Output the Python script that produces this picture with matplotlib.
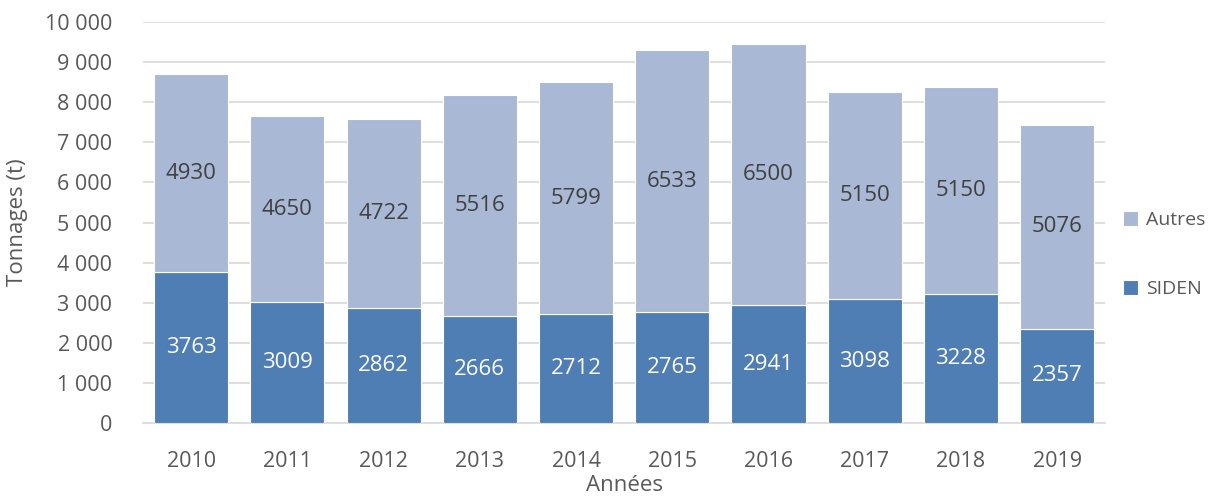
import matplotlib.pyplot as plt
from matplotlib.ticker import FuncFormatter

plt.rcParams['font.family'] = ['Open Sans', 'DejaVu Sans']

years = ['2010', '2011', '2012', '2013', '2014', '2015', '2016', '2017', '2018', '2019']
siden = [3763, 3009, 2862, 2666, 2712, 2765, 2941, 3098, 3228, 2357]
autres = [4930, 4650, 4722, 5516, 5799, 6533, 6500, 5150, 5150, 5076]

C_SIDEN = '#4f7eb5'
C_AUTRES = '#a9b8d4'
TXT = '#595959'

fig = plt.figure(figsize=(12.12, 4.99), dpi=100)
ax = fig.add_axes([0.118, 0.152, 0.794, 0.804])

x = range(len(years))
b1 = ax.bar(x, siden, width=0.77, color=C_SIDEN, edgecolor='white', linewidth=0.8, label='SIDEN', zorder=3)
b2 = ax.bar(x, autres, width=0.77, bottom=siden, color=C_AUTRES, edgecolor='white', linewidth=0.8, label='Autres', zorder=3)

for i in x:
    ax.text(i, siden[i] / 2, str(siden[i]), ha='center', va='center', color='white', fontsize=16, zorder=4)
    ax.text(i, siden[i] + autres[i] / 2, str(autres[i]), ha='center', va='center', color='#404040', fontsize=16, zorder=4)

ax.set_xlim(-0.5, len(years) - 0.5)
ax.set_ylim(0, 10000)
ax.set_yticks(range(0, 10001, 1000))
ax.yaxis.set_major_formatter(FuncFormatter(lambda v, p: f'{int(v):,}'.replace(',', ' ')))
ax.set_xticks(list(x))
ax.set_xticklabels(years)
ax.grid(axis='y', color='#d9d9d9', linewidth=1.2, zorder=0)
for s in ['top', 'right', 'left']:
    ax.spines[s].set_visible(False)
ax.spines['bottom'].set_color('#d9d9d9')
ax.spines['bottom'].set_linewidth(1.2)
ax.tick_params(axis='both', length=0, labelsize=15.5, colors=TXT)
ax.tick_params(axis='x', pad=20)
ax.tick_params(axis='y', pad=22)

ax.set_ylabel('Tonnages (t)', fontsize=16, color=TXT, labelpad=12)
ax.set_xlabel('Années', fontsize=16, color=TXT, labelpad=2)

ax.legend([b2, b1], ['Autres', 'SIDEN'], loc='center left', bbox_to_anchor=(1.018, 0.42),
          frameon=False, fontsize=14, labelcolor=TXT, handlelength=0.8, handleheight=0.8,
          handletextpad=0.4, labelspacing=2.6, borderpad=0, borderaxespad=0)

fig.savefig('out.png', dpi=100)
